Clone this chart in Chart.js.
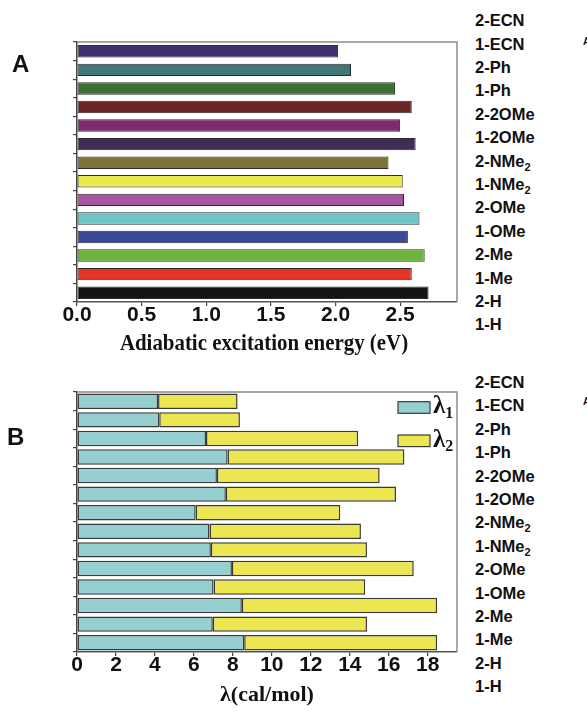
<!DOCTYPE html>
<html>
<head>
<meta charset="utf-8">
<script src="https://cdn.jsdelivr.net/npm/chart.js@4.4.1/dist/chart.umd.min.js"></script>
<style>
  html, body { margin: 0; padding: 0; background: #fff; }
  body { width: 587px; height: 711px; position: relative; overflow: hidden;
         font-family: 'Liberation Sans', Arial, sans-serif; color: #111; }
  canvas { position: absolute; left: 0; }
  .tag { position: absolute; font-weight: bold; font-size: 24px; line-height: 24px; }
  .edge { position: absolute; font-weight: bold; font-size: 10px; line-height: 10px; }
  .names { position: absolute; left: 475px; top: 0; font-weight: bold; font-size: 16.5px; }
  .names div { position: absolute; left: 0; white-space: nowrap; line-height: 20px; height: 20px; }
  .names span.sub { font-size: 11px; vertical-align: -4px; line-height: 0; }
</style>
</head>
<body>
<canvas id="chartA" width="470" height="357" style="top:0"></canvas>
<canvas id="chartB" width="470" height="356" style="top:355px"></canvas>

<div class="tag" style="left:12px;top:52px">A</div>
<div class="tag" style="left:7px;top:425px">B</div>
<div class="edge" style="left:583px;top:37px">A</div>
<div class="edge" style="left:583px;top:397px">A</div>
<div class="names" id="namesA"></div>
<div class="names" id="namesB"></div>

<script>
// Compounds, top bar first
const categories = ['2-ECN', '1-ECN', '2-Ph', '1-Ph', '2-2OMe', '1-2OMe', '2-NMe2',
                    '1-NMe2', '2-OMe', '1-OMe', '2-Me', '1-Me', '2-H', '1-H'];

// Panel A: adiabatic excitation energy (eV)
const excitationEnergy = [2.02, 2.12, 2.46, 2.59, 2.50, 2.62, 2.41,
                          2.52, 2.53, 2.65, 2.56, 2.69, 2.59, 2.72];
const energyTicks = [0, 0.5, 1.0, 1.5, 2.0, 2.5];

// Panel B: reorganization energy components (cal/mol)
const lambda1 = [4.16, 4.22, 6.62, 7.73, 7.18, 7.64, 6.09,
                 6.80, 6.87, 7.95, 7.01, 8.46, 6.97, 8.58];
const lambda2 = [4.08, 4.14, 7.81, 9.07, 8.35, 8.73, 7.42,
                 7.77, 8.01, 9.33, 7.78, 10.02, 7.91, 9.90];
const lambdaTicks = [0, 2, 4, 6, 8, 10, 12, 14, 16, 18];
const seriesNames = ['λ1', 'λ2'];

const energyColors = ['#3f3070', '#3f7877', '#3b7035', '#6c2525', '#7d2b6d', '#3f2d55', '#7b7434',
                      '#ebe94e', '#a8559f', '#6fc4c8', '#3a4a98', '#6cb43e', '#e6332a', '#141414'];
const lambdaColors = ['#95cfcf', '#ece650'];

// Right-hand list of compound names
function fillNames(id, firstCenter, step) {
  const box = document.getElementById(id);
  categories.forEach((name, i) => {
    const row = document.createElement('div');
    row.style.top = (firstCenter + i * step - 9.75) + 'px';
    const m = name.match(/^(.*NMe)(2)$/);
    if (m) {
      row.appendChild(document.createTextNode(m[1]));
      const s = document.createElement('span');
      s.className = 'sub';
      s.textContent = m[2];
      row.appendChild(s);
    } else {
      row.textContent = name;
    }
    box.appendChild(row);
  });
}
fillNames('namesA', 20, 23.4);
fillNames('namesB', 381.7, 23.4);

// Gray top/right frame around the plot area
const framePlugin = {
  id: 'frame',
  beforeDatasetsDraw(chart) {
    const { ctx, chartArea: a } = chart;
    ctx.save();
    ctx.strokeStyle = '#8c8c8c';
    ctx.lineWidth = 1.5;
    ctx.beginPath();
    ctx.moveTo(a.left, a.top);
    ctx.lineTo(a.right, a.top);
    ctx.lineTo(a.right, a.bottom);
    ctx.stroke();
    ctx.restore();
  }
};

// Axis caption drawn under the tick labels, optionally condensed
const captionPlugin = {
  id: 'caption',
  afterDraw(chart, args, o) {
    if (!o.text) return;
    const { ctx, chartArea: a } = chart;
    ctx.save();
    ctx.font = o.font;
    ctx.fillStyle = '#111';
    ctx.textAlign = 'center';
    ctx.textBaseline = 'alphabetic';
    ctx.translate((a.left + a.right) / 2 + (o.dx || 0), a.bottom + o.baseline);
    ctx.scale(o.scaleX || 1, 1);
    ctx.fillText(o.text, 0, 0);
    ctx.restore();
  }
};

// Legend swatches inside the plot, with subscripted series names
const boxLegendPlugin = {
  id: 'boxLegend',
  afterDatasetsDraw(chart, args, o) {
    if (!o.show) return;
    const { ctx, chartArea: a } = chart;
    chart.data.datasets.forEach((ds, i) => {
      const x = a.right + o.dx;
      const y = a.top + o.dy + i * o.step;
      ctx.save();
      ctx.fillStyle = ds.backgroundColor;
      ctx.fillRect(x, y, o.w, o.h);
      ctx.strokeStyle = '#3a3a3a';
      ctx.lineWidth = 1.2;
      ctx.strokeRect(x, y, o.w, o.h);
      const m = ds.label.match(/^(\D+)(\d*)$/);
      const tx = x + o.w + 3;
      const by = y + o.h;
      ctx.fillStyle = '#111';
      ctx.textAlign = 'left';
      ctx.textBaseline = 'alphabetic';
      ctx.font = o.font;
      ctx.fillText(m[1], tx, by);
      const w = ctx.measureText(m[1]).width;
      ctx.font = o.subFont;
      ctx.fillText(m[2], tx + w, by + 4.5);
      ctx.restore();
    });
  }
};

const tickFont = { family: "'Liberation Sans', Arial, sans-serif", size: 21, weight: 'bold', lineHeight: 0.9 };

function makeOptions(cfg) {
  return {
    indexAxis: 'y',
    responsive: false,
    animation: false,
    layout: { padding: { left: 77, right: 13, top: cfg.top, bottom: 0 } },
    scales: {
      x: {
        type: 'linear',
        min: 0,
        max: cfg.max,
        stacked: cfg.stacked,
        afterBuildTicks: s => { s.ticks = cfg.ticks.map(v => ({ value: v })); },
        afterFit: s => { s.height = cfg.axisHeight; },
        ticks: {
          font: tickFont, color: '#111', padding: 0, maxRotation: 0, autoSkip: false,
          callback: cfg.format
        },
        grid: { display: true, drawOnChartArea: false, tickLength: 4, color: '#444', lineWidth: 1.2 },
        border: { display: true, color: '#555', width: 1.5 }
      },
      y: {
        type: 'category',
        stacked: cfg.stacked,
        afterFit: s => { s.width = 0; },
        ticks: { display: false },
        grid: { display: true, offset: true, drawOnChartArea: false, tickLength: 4, color: '#444', lineWidth: 1.2 },
        border: { display: true, color: '#444', width: 1.5 }
      }
    },
    plugins: {
      legend: { display: false },
      tooltip: { enabled: false },
      caption: cfg.caption,
      boxLegend: cfg.legend || { show: false }
    }
  };
}

new Chart(document.getElementById('chartA'), {
  type: 'bar',
  data: {
    labels: categories,
    datasets: [{
      label: 'Adiabatic excitation energy',
      data: excitationEnergy,
      backgroundColor: energyColors,
      borderColor: '#2b2b2b',
      borderWidth: 1,
      borderSkipped: false,
      barPercentage: 0.67,
      categoryPercentage: 1
    }]
  },
  options: makeOptions({
    top: 42, max: 2.94, stacked: false, ticks: energyTicks, axisHeight: 55,
    format: v => Number(v).toFixed(1),
    caption: { text: 'Adiabatic excitation energy (eV)', font: "bold 24px 'Liberation Serif', 'Times New Roman', serif",
               scaleX: 0.87, dx: -3, baseline: 48 }
  }),
  plugins: [framePlugin, captionPlugin, boxLegendPlugin]
});

new Chart(document.getElementById('chartB'), {
  type: 'bar',
  data: {
    labels: categories,
    datasets: [lambda1, lambda2].map((vals, i) => ({
      label: seriesNames[i],
      data: vals,
      backgroundColor: lambdaColors[i],
      borderColor: '#3a3a3a',
      borderWidth: 1.5,
      borderSkipped: false,
      barPercentage: 0.83,
      categoryPercentage: 1
    }))
  },
  options: makeOptions({
    top: 37, max: 19.5, stacked: true, ticks: lambdaTicks, axisHeight: 59,
    format: v => String(v),
    caption: { text: 'λ(cal/mol)', font: "bold 22px 'Liberation Serif', 'Times New Roman', serif",
               scaleX: 1, dx: 0, baseline: 49 },
    legend: { show: true, dx: -59, dy: 9.7, step: 33.3, w: 32, h: 11.6,
              font: "bold 25px 'Liberation Serif', 'Times New Roman', serif",
              subFont: "bold 16px 'Liberation Serif', 'Times New Roman', serif" }
  }),
  plugins: [framePlugin, captionPlugin, boxLegendPlugin]
});
</script>
</body>
</html>
